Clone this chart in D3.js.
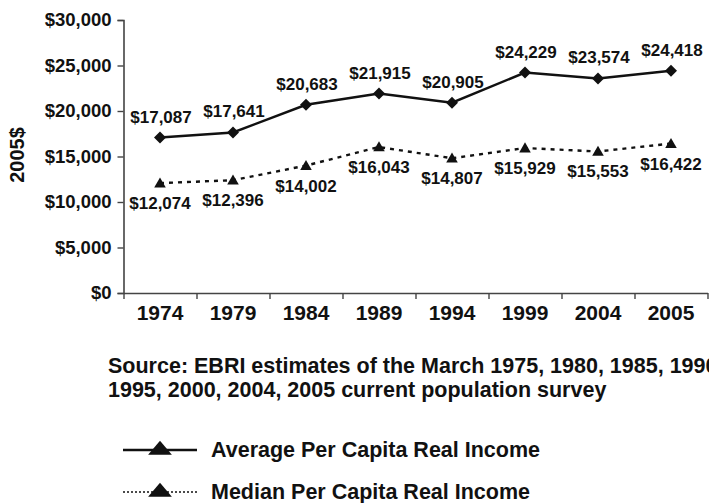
<!DOCTYPE html>
<html>
<head>
<meta charset="utf-8">
<script src="https://cdn.jsdelivr.net/npm/d3@7"></script>
<style>
  body { margin: 0; background: #fff; }
  text { font-family: Arial, "Liberation Sans", Helvetica, sans-serif; font-weight: bold; fill: #111; }
</style>
</head>
<body>
<svg id="chart" width="709" height="503"></svg>
<script>
const years = ["1974", "1979", "1984", "1989", "1994", "1999", "2004", "2005"];
const averageIncome = [17087, 17641, 20683, 21915, 20905, 24229, 23574, 24418];
const medianIncome = [12074, 12396, 14002, 16043, 14807, 15929, 15553, 16422];
const yTicks = [0, 5000, 10000, 15000, 20000, 25000, 30000];
const seriesNames = ["Average Per Capita Real Income", "Median Per Capita Real Income"];
const sourceLines = [
  "Source: EBRI estimates of the March 1975, 1980, 1985, 1990,",
  "1995, 2000, 2004, 2005 current population survey",
];
const yTitle = "2005$";

const svg = d3.select("#chart");
const axisColor = "#444";
const ink = "#111";

const x = d3.scaleBand().domain(years).range([123.5, 707.5]);
const y = d3.scaleLinear().domain([0, 30000]).range([293, 20]);
const cx = (i) => x(years[i]) + x.bandwidth() / 2;
const money = (v) => "$" + d3.format(",")(v);

// y axis
const yAxis = svg
  .append("g")
  .attr("transform", `translate(${x.range()[0]},0)`)
  .call(d3.axisLeft(y).tickValues(yTicks).tickFormat(money).tickSize(6).tickPadding(6));
yAxis.selectAll("text").style("font-size", "18.5px").attr("dy", "0.3em");

// x axis: labels at band centres, ticks on band edges
const xAxis = svg
  .append("g")
  .attr("transform", `translate(0,${y(0)})`)
  .call(d3.axisBottom(x).tickSize(0).tickPadding(11));
xAxis.selectAll("text").style("font-size", "21px").attr("dy", "0.75em");
const edges = d3.scaleLinear().domain([0, years.length]).range(x.range());
svg
  .append("g")
  .attr("transform", `translate(0,${y(0)})`)
  .call(d3.axisBottom(edges).ticks(years.length).tickSize(6).tickFormat(""))
  .select(".domain")
  .remove();

svg.selectAll(".domain").attr("stroke", axisColor).attr("stroke-width", 1.6);
svg.selectAll(".tick line").attr("stroke", axisColor).attr("stroke-width", 1.4);

svg
  .append("text")
  .attr("transform", "translate(24,155) rotate(-90)")
  .attr("text-anchor", "middle")
  .style("font-size", "20px")
  .text(yTitle);

// lines
const line = d3
  .line()
  .x((d, i) => cx(i))
  .y((d) => y(d));

svg
  .append("path")
  .datum(averageIncome)
  .attr("d", line)
  .attr("fill", "none")
  .attr("stroke", ink)
  .attr("stroke-width", 2.5);

svg
  .append("path")
  .datum(medianIncome)
  .attr("d", line)
  .attr("fill", "none")
  .attr("stroke", ink)
  .attr("stroke-width", 2.4)
  .attr("stroke-dasharray", "4,5");

// markers
const diamond = d3.symbol(d3.symbolSquare, 72);
const triangle = d3.symbol(d3.symbolTriangle, 58);

svg
  .selectAll(".avg-pt")
  .data(averageIncome)
  .enter()
  .append("path")
  .attr("d", diamond)
  .attr("transform", (d, i) => `translate(${cx(i)},${y(d)}) rotate(45)`)
  .attr("fill", ink);

svg
  .selectAll(".med-pt")
  .data(medianIncome)
  .enter()
  .append("path")
  .attr("d", triangle)
  .attr("transform", (d, i) => `translate(${cx(i)},${y(d) + 1})`)
  .attr("fill", ink);

// data labels
svg
  .selectAll(".avg-lbl")
  .data(averageIncome)
  .enter()
  .append("text")
  .attr("x", (d, i) => cx(i) + 1)
  .attr("y", (d) => y(d) - 15)
  .attr("text-anchor", "middle")
  .style("font-size", "17px")
  .text(money);

svg
  .selectAll(".med-lbl")
  .data(medianIncome)
  .enter()
  .append("text")
  .attr("x", (d, i) => cx(i))
  .attr("y", (d) => y(d) + 26)
  .attr("text-anchor", "middle")
  .style("font-size", "17px")
  .text(money);

// source note
svg
  .append("g")
  .selectAll("text")
  .data(sourceLines)
  .enter()
  .append("text")
  .attr("x", 108)
  .attr("y", (d, i) => 373 + i * 24)
  .style("font-size", "21.5px")
  .text((d) => d);

// legend
const legend = svg
  .selectAll(".legend")
  .data(seriesNames)
  .enter()
  .append("g")
  .attr("transform", (d, i) => `translate(0,${450 + i * 42})`);

legend
  .append("line")
  .attr("x1", 123)
  .attr("x2", 197)
  .attr("stroke", ink)
  .attr("stroke-width", (d, i) => (i === 0 ? 2.5 : 1.5))
  .attr("stroke-dasharray", (d, i) => (i === 0 ? null : "2,2"));

legend
  .append("path")
  .attr("d", d3.symbol(d3.symbolTriangle, 125))
  .attr("transform", "translate(160,0) scale(1.4,0.95)")
  .attr("fill", ink);

legend
  .append("text")
  .attr("x", 211)
  .attr("y", 7)
  .style("font-size", "21.5px")
  .text((d) => d);
</script>
</body>
</html>
